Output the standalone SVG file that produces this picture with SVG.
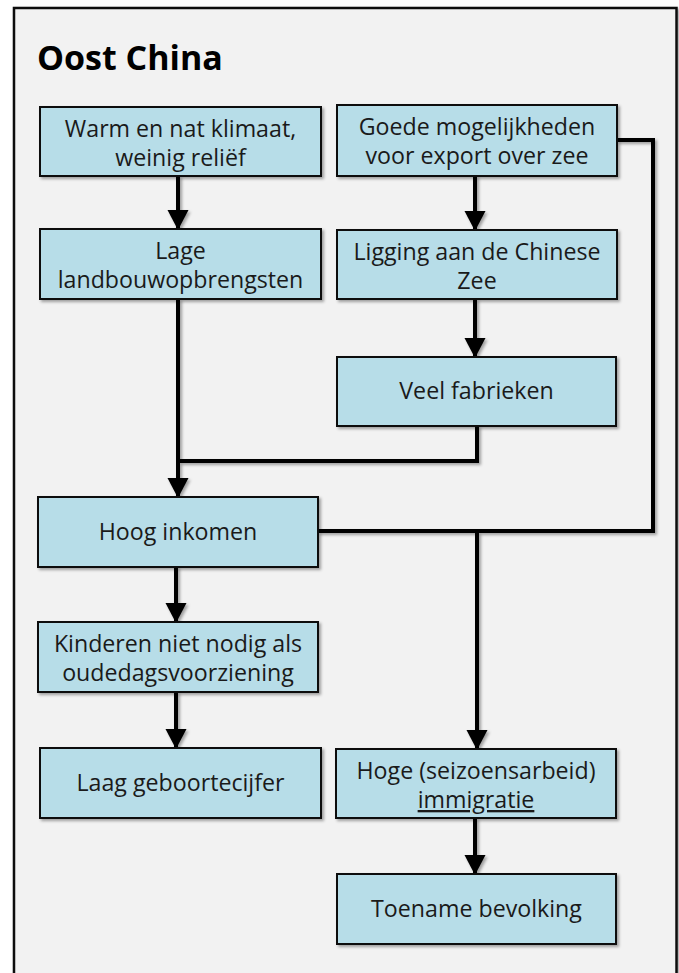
<svg xmlns="http://www.w3.org/2000/svg" width="679" height="973" viewBox="0 0 679 973">
  <defs>
    <style>
      .box { fill: #b7dde8; stroke: #111; stroke-width: 2; }
      .lbl { font-family: "Open Sans", "Liberation Sans", sans-serif; font-size: 23.2px; fill: #1a1a1a; text-anchor: middle; }
      .title { font-family: "Open Sans", "Liberation Sans", sans-serif; font-size: 34px; font-weight: bold; fill: #000; }
      .wire { fill: none; stroke: #000; stroke-width: 4; stroke-linejoin: miter; }
    </style>
    <filter id="shadow" x="-10%" y="-10%" width="130%" height="140%">
      <feDropShadow dx="2" dy="2" stdDeviation="1.5" flood-color="#000" flood-opacity="0.35"/>
    </filter>
    <marker id="arrow" markerUnits="userSpaceOnUse" markerWidth="20" markerHeight="22" refX="19" refY="10.5" orient="auto" viewBox="0 0 20 21">
      <path d="M0,0 L20,10.5 L0,21 z" fill="#000"/>
    </marker>
  </defs>

  <!-- background panel -->
  <rect x="0" y="0" width="679" height="973" fill="#ffffff"/>
  <rect x="14" y="8" width="662.5" height="980" fill="#f2f2f2" stroke="#111" stroke-width="2.5" filter="url(#shadow)"/>

  <text class="title" x="37" y="70">Oost China</text>

  <!-- connectors -->
  <g id="connectors" filter="url(#shadow)">
    <path class="wire" d="M178,176 V229" marker-end="url(#arrow)"/>
    <path class="wire" d="M178,299 V497" marker-end="url(#arrow)"/>
    <path class="wire" d="M477,426 V461 H178"/>
    <path class="wire" d="M617,140 H653 V531 H318"/>
    <path class="wire" d="M477,531 V749" marker-end="url(#arrow)"/>
    <path class="wire" d="M475,176 V230" marker-end="url(#arrow)"/>
    <path class="wire" d="M475,299 V357" marker-end="url(#arrow)"/>
    <path class="wire" d="M176,567 V622" marker-end="url(#arrow)"/>
    <path class="wire" d="M176,692 V748" marker-end="url(#arrow)"/>
    <path class="wire" d="M475,818 V874" marker-end="url(#arrow)"/>
  </g>

  <!-- nodes -->
  <g id="klimaat">
    <rect class="box" x="40" y="107" width="281" height="69" filter="url(#shadow)"/>
    <text class="lbl" x="180.5" y="137">Warm en nat klimaat,</text>
    <text class="lbl" x="180.5" y="166">weinig reliëf</text>
  </g>
  <g id="landbouw">
    <rect class="box" x="40" y="229" width="281" height="70" filter="url(#shadow)"/>
    <text class="lbl" x="180.5" y="259">Lage</text>
    <text class="lbl" x="180.5" y="288">landbouwopbrengsten</text>
  </g>
  <g id="export">
    <rect class="box" x="337" y="105" width="280" height="71" filter="url(#shadow)"/>
    <text class="lbl" x="477" y="135">Goede mogelijkheden</text>
    <text class="lbl" x="477" y="164">voor export over zee</text>
  </g>
  <g id="ligging">
    <rect class="box" x="337" y="230" width="280" height="69" filter="url(#shadow)"/>
    <text class="lbl" x="477" y="260">Ligging aan de Chinese</text>
    <text class="lbl" x="477" y="289">Zee</text>
  </g>
  <g id="fabrieken">
    <rect class="box" x="337" y="357" width="279" height="69" filter="url(#shadow)"/>
    <text class="lbl" x="476.5" y="399">Veel fabrieken</text>
  </g>
  <g id="inkomen">
    <rect class="box" x="38" y="497" width="280" height="70" filter="url(#shadow)"/>
    <text class="lbl" x="178" y="540">Hoog inkomen</text>
  </g>
  <g id="kinderen">
    <rect class="box" x="38" y="622" width="280" height="70" filter="url(#shadow)"/>
    <text class="lbl" x="178" y="652">Kinderen niet nodig als</text>
    <text class="lbl" x="178" y="681">oudedagsvoorziening</text>
  </g>
  <g id="geboorte">
    <rect class="box" x="40" y="748" width="281" height="70" filter="url(#shadow)"/>
    <text class="lbl" x="180.5" y="791">Laag geboortecijfer</text>
  </g>
  <g id="immigratie">
    <rect class="box" x="336" y="749" width="280" height="69" filter="url(#shadow)"/>
    <text class="lbl" x="476" y="779">Hoge (seizoensarbeid)</text>
    <text class="lbl" x="476" y="808" text-decoration="underline">immigratie</text>
  </g>
  <g id="bevolking">
    <rect class="box" x="337" y="874" width="279" height="70" filter="url(#shadow)"/>
    <text class="lbl" x="476.5" y="917">Toename bevolking</text>
  </g>
</svg>
